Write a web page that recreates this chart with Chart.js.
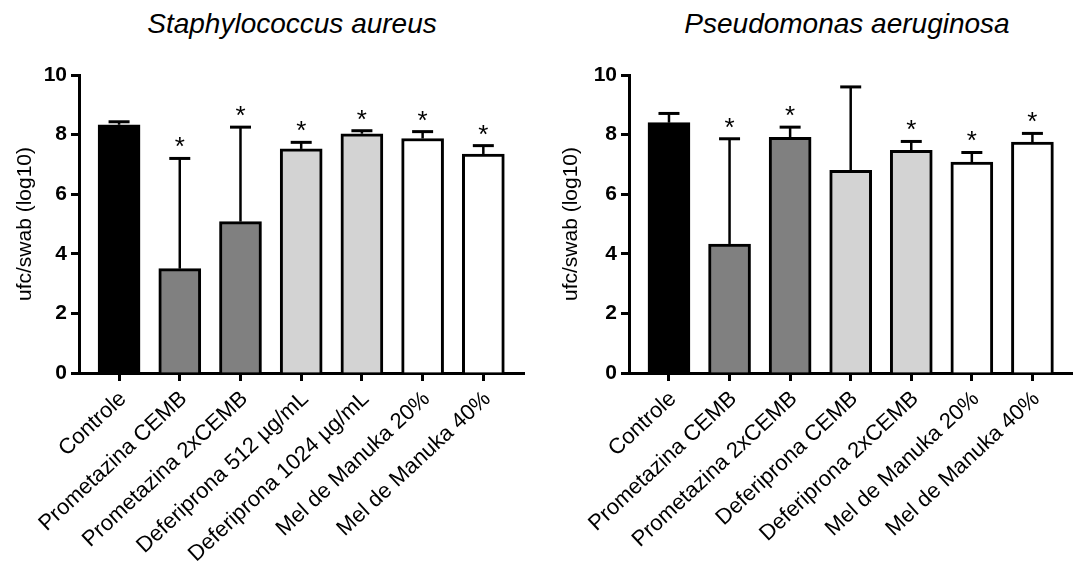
<!DOCTYPE html>
<html><head><meta charset="utf-8">
<script src="https://cdn.jsdelivr.net/npm/chart.js@4.4.0/dist/chart.umd.min.js"></script>
<style>
html,body{margin:0;padding:0;background:#fff;width:1073px;height:568px;overflow:hidden;}
.wrap{position:absolute;top:0;height:568px;}
.title{position:absolute;top:8px;font:italic 28px "Liberation Sans",Arial,sans-serif;color:#000;white-space:nowrap;transform:translateX(-50%);}
</style></head><body>
<div class="title" style="left:292px">Staphylococcus aureus</div>
<div class="title" style="left:847px">Pseudomonas aeruginosa</div>
<div class="wrap" style="left:0;width:540px"><canvas id="c1" width="540" height="568"></canvas></div>
<div class="wrap" style="left:540px;width:533px"><canvas id="c2" width="533" height="568"></canvas></div>
<script>
const saLabels = ['Controle','Prometazina CEMB','Prometazina 2xCEMB','Deferiprona 512 µg/mL','Deferiprona 1024 µg/mL','Mel de Manuka 20%','Mel de Manuka 40%'];
const saMeans = [8.33, 3.50, 5.08, 7.52, 8.03, 7.87, 7.35];
const saErr = [0.10, 3.70, 3.17, 0.22, 0.10, 0.23, 0.28];
const saSig = [false, true, true, true, true, true, true];

const paLabels = ['Controle','Prometazina CEMB','Prometazina 2xCEMB','Deferiprona CEMB','Deferiprona 2xCEMB','Mel de Manuka 20%','Mel de Manuka 40%'];
const paMeans = [8.40, 4.33, 7.91, 6.80, 7.47, 7.08, 7.75];
const paErr = [0.31, 3.53, 0.34, 2.80, 0.30, 0.32, 0.29];
const paSig = [false, true, true, false, true, true, true];

const yTicks = [0, 2, 4, 6, 8, 10];
const yTitle = 'ufc/swab (log10)';
const barColors = ['#000000','#808080','#808080','#d3d3d3','#d3d3d3','#ffffff','#ffffff'];

const FONT = '"Liberation Sans", Arial, sans-serif';

function errPlugin(means, errs, sig) {
  return {
    id: 'errbars',
    afterDatasetsDraw(chart) {
      const ctx = chart.ctx, xs = chart.scales.x, ys = chart.scales.y;
      ctx.save();
      ctx.strokeStyle = '#000';
      ctx.fillStyle = '#000';
      means.forEach((m, i) => {
        const x = xs.getPixelForValue(i);
        const y0 = ys.getPixelForValue(m);
        const y1 = ys.getPixelForValue(m + errs[i]);
        ctx.lineWidth = 2.5;
        ctx.beginPath(); ctx.moveTo(x, y0); ctx.lineTo(x, y1); ctx.stroke();
        ctx.lineWidth = 3;
        ctx.beginPath(); ctx.moveTo(x - 10.5, y1); ctx.lineTo(x + 10.5, y1); ctx.stroke();
        if (sig[i]) {
          ctx.font = '26px ' + FONT;
          ctx.textAlign = 'center';
          ctx.textBaseline = 'alphabetic';
          ctx.fillText('*', x, y1 - 3);
        }
      });
      ctx.restore();
    }
  };
}

function makeChart(id, labels, means, errs, sig, yWidth, padRight, titlePad) {
  return new Chart(document.getElementById(id), {
    type: 'bar',
    data: {
      datasets: [{
        data: means.map((v, i) => ({x: i, y: v})),
        backgroundColor: barColors,
        borderColor: '#000',
        borderWidth: 3,
        borderSkipped: 'bottom',
        barThickness: 42
      }]
    },
    options: {
      responsive: false,
      devicePixelRatio: 1,
      animation: false,
      layout: {padding: {top: 75, right: padRight, bottom: 0, left: 0}},
      plugins: {legend: {display: false}, tooltip: {enabled: false}, title: {display: false}},
      scales: {
        x: {
          type: 'linear',
          offset: false,
          min: -0.66, max: 6.67,
          afterBuildTicks(s) { s.ticks = labels.map((_, i) => ({value: i})); },
          afterFit(s) { s.height = 195; s.paddingLeft = 0; s.paddingRight = 0; },
          ticks: {
            autoSkip: false, minRotation: 43, maxRotation: 43,
            color: '#000', padding: 5, labelOffset: 4,
            font: {family: FONT, size: 22},
            callback: (v) => labels[v] ?? ''
          },
          grid: {offset: false, drawOnChartArea: false, drawTicks: true, tickLength: 8, tickWidth: 3, color: '#000'},
          border: {display: true, color: '#000', width: 3}
        },
        y: {
          min: 0, max: 10,
          afterBuildTicks(s) { s.ticks = yTicks.map(v => ({value: v})); },
          afterFit(s) { s.width = yWidth; s.paddingTop = 0; s.paddingBottom = 0; },
          ticks: {color: '#000', padding: 4, font: {family: FONT, size: 21, weight: 'bold'}},
          grid: {drawOnChartArea: false, drawTicks: true, tickLength: 8, tickWidth: 3, color: '#000'},
          border: {display: true, color: '#000', width: 3},
          title: {display: true, text: yTitle, color: '#000', font: {family: FONT, size: 21}, padding: {top: titlePad - 1, bottom: 0}}
        }
      }
    },
    plugins: [errPlugin(means, errs, sig)]
  });
}

makeChart('c1', saLabels, saMeans, saErr, saSig, 79, 16, 14);
makeChart('c2', paLabels, paMeans, paErr, paSig, 89, 0, 20);
</script>
</body></html>
